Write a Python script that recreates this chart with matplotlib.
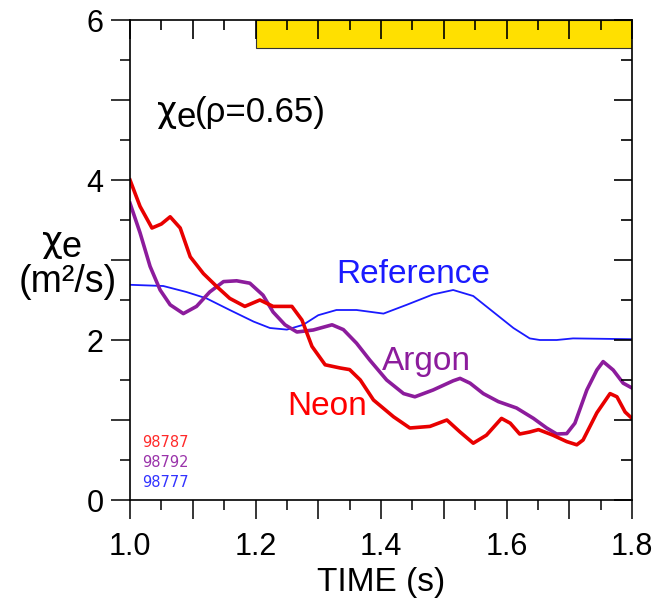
import matplotlib
matplotlib.use("Agg")
import matplotlib.pyplot as plt
from matplotlib.ticker import MultipleLocator, FixedLocator, FixedFormatter, NullFormatter
from matplotlib.patches import Rectangle
from matplotlib.transforms import offset_copy

plt.rcParams['font.family'] = ['Liberation Sans', 'DejaVu Sans']

# ---- data ----
neon_t = [1.0, 1.016, 1.035, 1.05, 1.064, 1.08, 1.096, 1.117, 1.138, 1.159, 1.183,
          1.207, 1.228, 1.258, 1.274, 1.29, 1.311, 1.335, 1.35, 1.367, 1.388, 1.42,
          1.446, 1.478, 1.505, 1.526, 1.547, 1.568, 1.592, 1.606, 1.621, 1.637, 1.651,
          1.674, 1.696, 1.712, 1.722, 1.744, 1.765, 1.776, 1.789, 1.8]
neon_v = [4.0, 3.67, 3.40, 3.45, 3.54, 3.40, 3.04, 2.83, 2.67, 2.52, 2.42,
          2.50, 2.42, 2.42, 2.25, 1.92, 1.69, 1.65, 1.63, 1.5, 1.25, 1.04,
          0.90, 0.92, 1.0, 0.85, 0.71, 0.81, 1.02, 0.96, 0.825, 0.85, 0.88,
          0.81, 0.73, 0.69, 0.75, 1.09, 1.33, 1.29, 1.10, 1.02]

argon_t = [1.0, 1.016, 1.032, 1.048, 1.064, 1.085, 1.106, 1.127, 1.149, 1.17, 1.191,
           1.212, 1.228, 1.247, 1.266, 1.292, 1.322, 1.34, 1.361, 1.382, 1.409, 1.436,
           1.454, 1.483, 1.515, 1.526, 1.542, 1.563, 1.587, 1.616, 1.643, 1.664, 1.68,
           1.696, 1.709, 1.728, 1.744, 1.754, 1.77, 1.786, 1.8]
argon_v = [3.71, 3.34, 2.92, 2.625, 2.44, 2.33, 2.42, 2.6, 2.73, 2.74, 2.71,
           2.56, 2.35, 2.19, 2.10, 2.125, 2.19, 2.13, 1.96, 1.75, 1.5, 1.33,
           1.29, 1.375, 1.49, 1.52, 1.46, 1.33, 1.23, 1.15, 1.02, 0.90, 0.825,
           0.83, 0.96, 1.375, 1.625, 1.73, 1.625, 1.46, 1.40]

ref_t = [1.0, 1.053, 1.09, 1.122, 1.159, 1.197, 1.223, 1.25, 1.276, 1.3, 1.329,
         1.361, 1.404, 1.441, 1.483, 1.515, 1.547, 1.579, 1.611, 1.637, 1.653,
         1.68, 1.706, 1.8]
ref_v = [2.69, 2.675, 2.6, 2.52, 2.375, 2.23, 2.15, 2.13, 2.19, 2.31, 2.375,
         2.375, 2.33, 2.44, 2.57, 2.625, 2.55, 2.35, 2.15, 2.02, 2.0,
         2.0, 2.02, 2.01]

bar_times = [1.2, 1.8]
bar_levels = [5.65, 6.0]

x_ticks = [1.0, 1.1, 1.2, 1.3, 1.4, 1.5, 1.6, 1.7, 1.8]
x_labels = ['1.0', '', '1.2', '', '1.4', '', '1.6', '', '1.8']
y_ticks = [0, 1, 2, 3, 4, 5, 6]
y_labels = ['0', '', '2', '', '4', '', '6']

shots = ['98787', '98792', '98777']

RED = '#E80000'
PURPLE = '#8C1C9C'
BLUE = '#1A1AFF'

rect = [130/664, 1 - 500/605, 502/664, 480/605]
fig = plt.figure(figsize=(6.64, 6.05), dpi=100)

# background axes holding the yellow bar
bg = fig.add_axes(rect, zorder=0)
bg.set_xlim(1.0, 1.8)
bg.set_ylim(0, 6)
bg.add_patch(Rectangle((bar_times[0], bar_levels[0]), bar_times[1] - bar_times[0],
                       bar_levels[1] - bar_levels[0], facecolor='#FFE000',
                       edgecolor='#333333', linewidth=0.8))
bg.set_axis_off()

ax = fig.add_axes(rect, zorder=1, facecolor='none')
ax.plot(ref_t, ref_v, color=BLUE, lw=1.3, solid_joinstyle='round', zorder=3)
ax.plot(argon_t, argon_v, color=PURPLE, lw=2.6, solid_joinstyle='round', zorder=4)
ax.plot(neon_t, neon_v, color=RED, lw=2.6, solid_joinstyle='round', zorder=5)

ax.set_xlim(1.0, 1.8)
ax.set_ylim(0, 6)

ax.xaxis.set_major_locator(FixedLocator(x_ticks))
ax.xaxis.set_major_formatter(FixedFormatter(x_labels))
ax.xaxis.set_minor_locator(MultipleLocator(0.05))
ax.yaxis.set_major_locator(FixedLocator(y_ticks))
ax.yaxis.set_major_formatter(FixedFormatter(y_labels))
ax.yaxis.set_minor_locator(MultipleLocator(0.5))

ax.tick_params(axis='both', which='major', direction='out', length=14, width=1.1,
               labelsize=22)
ax.tick_params(axis='both', which='minor', direction='out', length=7, width=1.1)
ax.tick_params(axis='x', which='major', pad=9)
ax.tick_params(axis='y', which='major', pad=5)
for s in ax.spines.values():
    s.set_linewidth(1.2)
    s.set_zorder(6)

# overlay axes for inward ticks on top and right
ov = fig.add_axes(rect, zorder=2, facecolor='none')
ov.set_xlim(1.0, 1.8)
ov.set_ylim(0, 6)
ov.xaxis.set_major_locator(FixedLocator(x_ticks))
ov.xaxis.set_minor_locator(MultipleLocator(0.05))
ov.yaxis.set_major_locator(FixedLocator(y_ticks))
ov.yaxis.set_minor_locator(MultipleLocator(0.5))
ov.xaxis.set_major_formatter(NullFormatter())
ov.yaxis.set_major_formatter(NullFormatter())
ov.tick_params(which='both', direction='in', bottom=False, left=False, top=True,
               right=True, labelbottom=False, labelleft=False, width=1.2)
ov.tick_params(axis='x', which='major', length=14)
ov.tick_params(axis='x', which='minor', length=7)
ov.tick_params(axis='y', which='major', length=13)
ov.tick_params(axis='y', which='minor', length=8)
for s in ov.spines.values():
    s.set_visible(False)

ax.set_xlabel('TIME (s)', fontsize=24, labelpad=4)

renderer = fig.canvas.get_renderer()


def chain(x, y, pieces, transform, size, color='black'):
    """Write pieces left to right; each piece is (text, dy_pixels, family)."""
    dx = 0.0
    for txt, dy, fam in pieces:
        tr = offset_copy(transform, fig=fig, x=dx, y=-dy, units='dots')
        t = fig.text(x, y, txt, fontsize=size, color=color, ha='left',
                     va='baseline', transform=tr, family=fam)
        dx += t.get_window_extent(renderer).width - 1


SANS = ['Liberation Sans', 'DejaVu Sans']
CHI = ['DejaVu Sans']

# y-axis label
chain(42/664, 1 - 252/605, [('χ', 0, CHI), ('e', 5, SANS)], fig.transFigure, 26)
fig.text(68/664, 1 - 292/605, '(m²/s)', fontsize=27, ha='center', va='baseline')

# title inside axes
chain(1.043, 4.725, [('χ', 0, CHI), ('e', 5, SANS), ('(ρ=0.65)', 0, SANS)],
      ax.transData, 25)

ax.text(1.329, 2.71, 'Reference', color=BLUE, fontsize=24, ha='left', va='baseline')
ax.text(1.401, 1.625, 'Argon', color=PURPLE, fontsize=24, ha='left', va='baseline')
ax.text(1.25, 1.06, 'Neon', color='#FF0000', fontsize=24, ha='left', va='baseline')

shot_colors = ['#FF2A2A', '#9A33AA', '#3333FF']
shot_levels = [0.66, 0.41, 0.16]
for s, c, lv in zip(shots, shot_colors, shot_levels):
    ax.text(1.019, lv, s, color=c, fontsize=10.5, family='DejaVu Sans',
            ha='left', va='baseline')

fig.savefig('out.png', dpi=100)
